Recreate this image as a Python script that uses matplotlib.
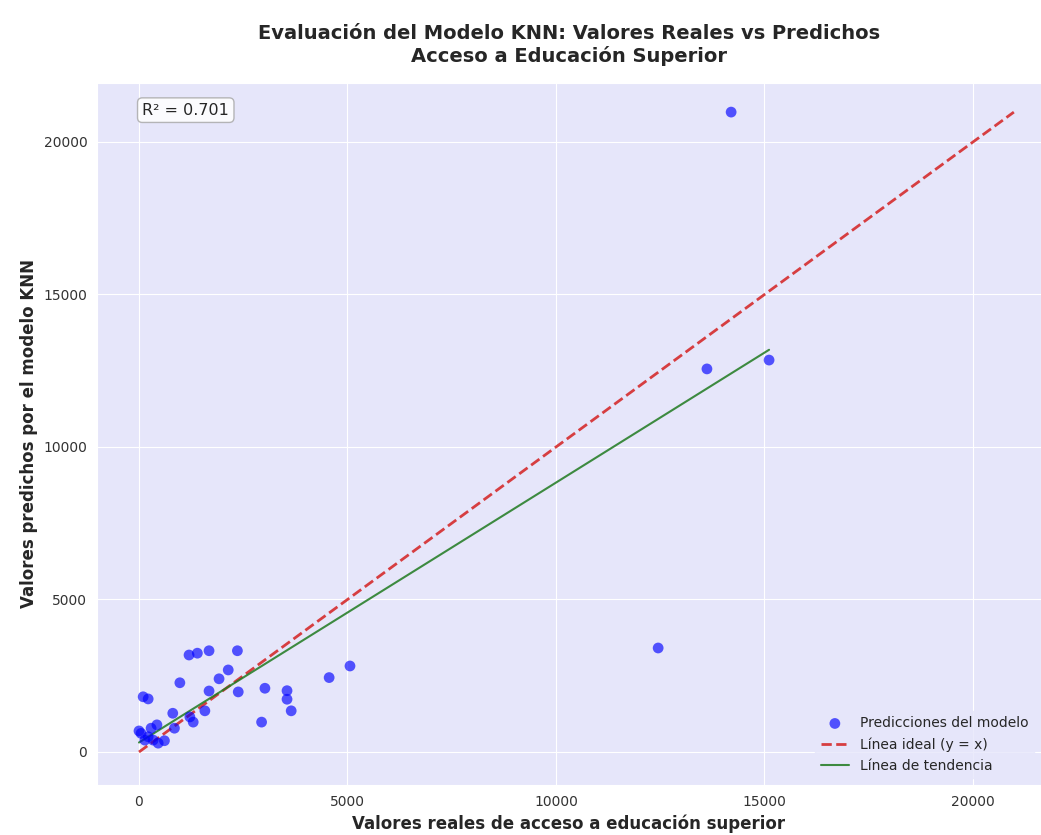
import numpy as np
import matplotlib
matplotlib.use("Agg")
import matplotlib.pyplot as plt
import seaborn as sns

# Valores reales (eje x) y predichos por KNN (eje y)
y_real = [14200, 13620, 15110, 12450,
          1200, 1400, 1680, 2360, 5060, 4560, 2140, 1920, 980,
          100, 220, 1680, 2380, 3020, 3550, 3550, 3650, 2940,
          1580, 810, 1220, 1300, 430, 290, 850, 0, 50, 220,
          340, 460, 610, 140]
y_pred = [20980, 12560, 12850, 3410,
          3180, 3240, 3320, 3320, 2820, 2440, 2690, 2400, 2270,
          1810, 1740, 2000, 1970, 2090, 2010, 1730, 1350, 980,
          1350, 1270, 1150, 980, 890, 780, 780, 690, 610, 500,
          390, 290, 370, 390]

title = "Evaluación del Modelo KNN: Valores Reales vs Predichos\nAcceso a Educación Superior"
xlabel = "Valores reales de acceso a educación superior"
ylabel = "Valores predichos por el modelo KNN"
r2_text = "R² = 0.701"

sns.set_style("darkgrid")
plt.rcParams['font.family'] = ['DejaVu Sans']

fig = plt.figure(figsize=(10.41, 8.35), dpi=100)
ax = fig.add_axes([97/1041, 1-785/835, 1-97/1041, (785-83)/835])
ax.set_facecolor('lavender')

x = np.array(y_real, dtype=float)
y = np.array(y_pred, dtype=float)

ax.scatter(x, y, s=60, color='blue', alpha=0.65, edgecolors='none',
           label='Predicciones del modelo', zorder=3)

lo = min(x.min(), y.min())
hi = max(x.max(), y.max())
ax.plot([lo, hi], [lo, hi], color='#d42020', ls='--', lw=2, alpha=0.85,
        label='Línea ideal (y = x)', zorder=2)

m, b = np.polyfit(x, y, 1)
xs = np.array([x.min(), x.max()])
ax.plot(xs, m*xs + b, color='#1f7a1f', lw=1.5, alpha=0.85, label='Línea de tendencia', zorder=2)

ax.set_xlim(-1007, 21631)
ax.set_ylim(-1082, 21934)
ax.set_xticks([0, 5000, 10000, 15000, 20000])
ax.set_yticks([0, 5000, 10000, 15000, 20000])
ax.tick_params(labelsize=10, colors='#333333')

ax.set_title(title, fontsize=14, fontweight='bold', pad=15)
ax.set_xlabel(xlabel, fontsize=12, fontweight='bold')
ax.set_ylabel(ylabel, fontsize=12, fontweight='bold')

ax.text(0.048, 0.972, r2_text, transform=ax.transAxes, fontsize=11.5,
        va='top', bbox=dict(boxstyle='round', facecolor='white', edgecolor='#aaaaaa', alpha=0.85))

leg = ax.legend(loc='lower right', fontsize=10, frameon=True)
leg.get_frame().set_facecolor('lavender')
leg.get_frame().set_edgecolor('lavender')

fig.savefig('out.png', dpi=100)
